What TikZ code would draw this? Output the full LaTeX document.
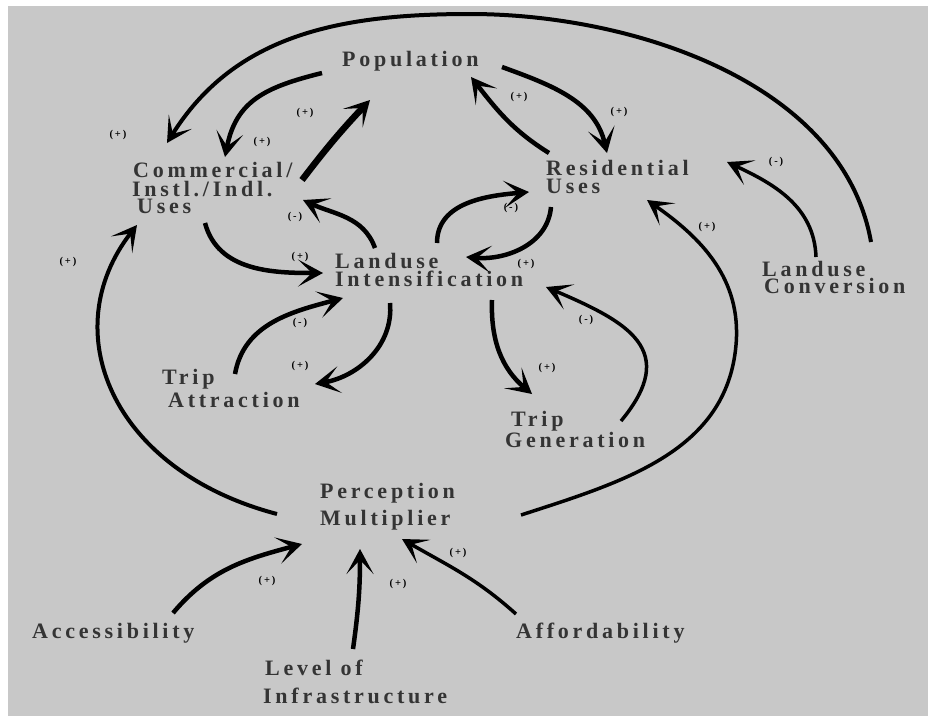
\documentclass[tikz,border=0pt]{standalone}
\usepackage{fontspec}
\setmainfont{Liberation Serif}[LetterSpace=17]
\usetikzlibrary{arrows.meta}
\definecolor{bgc}{RGB}{200,200,200}
\definecolor{txtc}{RGB}{52,52,52}
\tikzset{
  lbl/.style={anchor=base west, inner sep=0pt, align=left, text=txtc,
    font=\fontsize{22}{18}\selectfont\bfseries},
  sgn/.style={inner sep=0pt, font=\fontsize{10.5}{10}\selectfont\bfseries, text=black},
  arr/.style={line width=4.5pt, -{Stealth[length=25pt, width=27pt, inset=14pt]}},
  thin arr/.style={line width=3.5pt, -{Stealth[length=25pt, width=27pt, inset=14pt]}}
}
\begin{document}
\begin{tikzpicture}[x=1pt,y=1pt]
\useasboundingbox (0,0) rectangle (928,-716);
\fill[white] (0,0) rectangle (928,-716);
\fill[bgc] (8,-6) rectangle (928,-716);

% nodes (anchored at the baseline of their last line)
\node[lbl] (pop) at (342,-66) {Population};
\node[lbl] (com) at (132,-213) {\hspace{1pt}Commercial/\\[1pt]Instl./Indl.\\[-1pt]\hspace{5pt}Uses};
\node[lbl] (res) at (546,-193) {Residential\\Uses};
\node[lbl] (lc) at (762,-293) {Landuse\\[-1pt]\hspace{2pt}Conversion};
\node[lbl] (li) at (335,-286) {Landuse\\Intensification};
\node[lbl] (ta) at (162,-407) {Trip\\[2pt]\hspace{6pt}Attraction};
\node[lbl] (tg) at (505,-447) {\hspace{6pt}Trip\\Generation};
\node[lbl] (pm) at (320,-525) {Perception\\[6pt]Multiplier};
\node[lbl] (acc) at (32,-638) {Accessibility};
\node[lbl] (loi) at (263,-703) {\hspace{2pt}Level of\\[10pt]Infrastructure};
\node[lbl] (aff) at (516,-638) {Affordability};

% connector end points
\coordinate (lcA) at (871,-242);  \coordinate (top) at (470,-14);  \coordinate (comA) at (167,-143);
\coordinate (popB) at (322,-73);  \coordinate (comB) at (225,-157);
\coordinate (comC) at (302,-180); \coordinate (popC) at (370,-100);
\coordinate (liD) at (375,-248);  \coordinate (comD) at (303,-200);
\coordinate (comE) at (205,-223); \coordinate (liE) at (323,-273);
\coordinate (taF) at (235,-374);  \coordinate (liF) at (343,-298);
\coordinate (liG) at (390,-303);  \coordinate (taG) at (315,-384);
\coordinate (liH) at (437,-243);  \coordinate (resH) at (529,-192);
\coordinate (resI) at (551,-207); \coordinate (liI) at (466,-257);
\coordinate (resJ) at (549,-153); \coordinate (popJ) at (471,-77);
\coordinate (popK) at (502,-67);  \coordinate (resK) at (607,-153);
\coordinate (lcL) at (816,-257);  \coordinate (resL) at (727,-162);
\coordinate (pmM) at (521,-515);  \coordinate (mid) at (736,-345); \coordinate (resM) at (647,-200);
\coordinate (pmN) at (277,-514);  \coordinate (comN) at (137,-225);
\coordinate (tgO) at (621,-421);  \coordinate (liO) at (546,-287);
\coordinate (liP) at (492,-300);  \coordinate (tgP) at (532,-394);
\coordinate (accQ) at (173,-613); \coordinate (pmQ) at (302,-544);
\coordinate (loiR) at (353,-649); \coordinate (pmR) at (360,-549);
\coordinate (affS) at (516,-614); \coordinate (pmS) at (402,-539);

% connectors
\draw[thin arr, line width=4pt] (lcA) to[out=100, in=0, looseness=0.9] (top) to[out=180, in=58] (comA);
\draw[arr] (popB) to[out=194, in=79, looseness=1.15] (comB);
\draw[arr, line width=6.5pt] (comC) to[bend left=3] (popC);
\draw[arr] (liD) to[out=110, in=-25] (comD);
\draw[arr] (comE) to[out=-75, in=180] (liE);
\draw[arr] (taF) to[out=80, in=195] (liF);
\draw[arr] (liG) to[out=-85, in=10] (taG);
\draw[arr] (liH) to[out=90, in=185] (resH);
\draw[arr] (resI) to[out=-95, in=-5] (liI);
\draw[arr] (resJ) to[out=148, in=-52] (popJ);
\draw[arr] (popK) to[out=-20, in=103] (resK);
\draw[thin arr] (lcL) to[out=92, in=-25] (resL);
\draw[thin arr] (pmM) to[out=18, in=-95] (mid) to[out=85, in=-35] (resM);
\draw[thin arr, line width=4pt] (pmN) .. controls (110,-470) and (55,-330) .. (comN);
\draw[thin arr] (tgO) .. controls (680,-350) and (628,-322) .. (liO);
\draw[arr] (liP) to[out=-92, in=140] (tgP);
\draw[arr] (accQ) to[out=50, in=195] (pmQ);
\draw[arr] (loiR) to[out=82, in=-90] (pmR);
\draw[thin arr] (affS) to[out=138, in=-30] (pmS);

% polarity labels
\node[sgn] (s1) at (118,-135) {(+)};
\node[sgn] (s2) at (305,-113) {(+)};
\node[sgn] (s3) at (262,-142) {(+)};
\node[sgn] (s4) at (295,-217) {(-)};
\node[sgn] (s5) at (300,-257) {(+)};
\node[sgn] (s6) at (300,-323) {(-)};
\node[sgn] (s7) at (300,-366) {(+)};
\node[sgn] (s8) at (68,-262) {(+)};
\node[sgn] (s9) at (519,-97) {(+)};
\node[sgn] (s10) at (619,-112) {(+)};
\node[sgn] (s11) at (511,-208) {(-)};
\node[sgn] (s12) at (526,-264) {(+)};
\node[sgn] (s13) at (776,-162) {(-)};
\node[sgn] (s14) at (707,-227) {(+)};
\node[sgn] (s15) at (586,-320) {(-)};
\node[sgn] (s16) at (547,-368) {(+)};
\node[sgn] (s17) at (267,-581) {(+)};
\node[sgn] (s18) at (398,-584) {(+)};
\node[sgn] (s19) at (458,-553) {(+)};
\end{tikzpicture}
\end{document}
